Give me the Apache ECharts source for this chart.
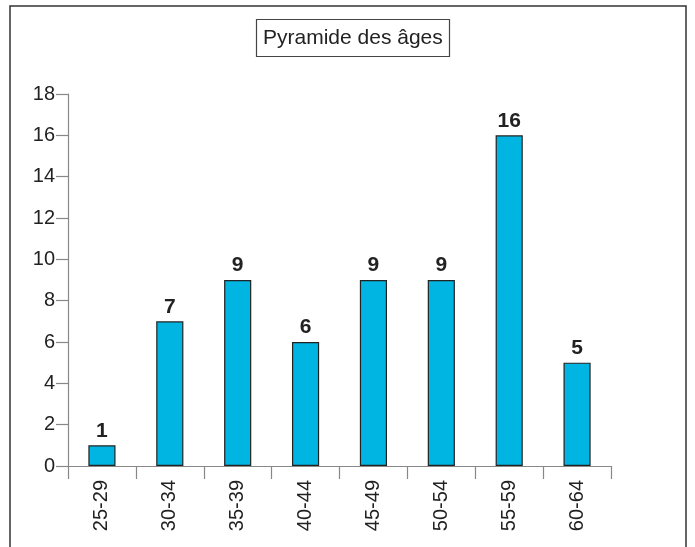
<!DOCTYPE html>
<html>
<head>
<meta charset="utf-8">
<script src="https://cdn.jsdelivr.net/npm/echarts@6/dist/echarts.min.js"></script>
<style>
  html, body { margin: 0; padding: 0; background: #fff; }
  #chart { width: 695px; height: 547px; }
</style>
</head>
<body>
<div id="chart"></div>
<script>
var categories = ['25-29', '30-34', '35-39', '40-44', '45-49', '50-54', '55-59', '60-64'];
var counts = [1, 7, 9, 6, 9, 9, 16, 5];
var yTicks = [0, 2, 4, 6, 8, 10, 12, 14, 16, 18];

var font = '"Liberation Sans", Arial, Helvetica, sans-serif';
var myChart = echarts.init(document.getElementById('chart'));

var option = {
    animation: false,
    backgroundColor: '#fff',
    graphic: [{
        type: 'rect',
        shape: {x: 10, y: 6, width: 676, height: 600},
        style: {fill: 'none', stroke: '#333', lineWidth: 1.5},
        silent: true
    }],
    title: {
        text: 'Pyramide des âges',
        left: 256,
        top: 19,
        padding: [8, 7],
        borderColor: '#444',
        borderWidth: 1.2,
        textStyle: {
            fontFamily: font,
            fontSize: 21,
            fontWeight: 'normal',
            color: '#222',
            lineHeight: 22
        }
    },
    grid: {left: 68, right: 84, top: 94, bottom: 81, containLabel: false},
    xAxis: {
        type: 'category',
        data: categories,
        axisLine: {lineStyle: {color: '#888', width: 1.2}},
        axisTick: {show: true, alignWithLabel: false, length: 13, inside: false,
                   lineStyle: {color: '#888', width: 1.2}},
        axisLabel: {
            rotate: 90,
            margin: 14,
            fontFamily: font,
            fontSize: 20,
            color: '#222'
        }
    },
    yAxis: {
        type: 'value',
        min: 0,
        max: yTicks[yTicks.length - 1],
        interval: 2,
        splitLine: {show: false},
        axisLine: {show: true, lineStyle: {color: '#888', width: 1.2}},
        axisTick: {show: true, length: 12, lineStyle: {color: '#888', width: 1.2}},
        axisLabel: {
            margin: 13,
            fontFamily: font,
            fontSize: 20,
            color: '#222'
        }
    },
    series: [{
        type: 'bar',
        data: counts,
        barWidth: '40%',
        itemStyle: {color: '#00b5e2', borderColor: '#222', borderWidth: 1.2},
        label: {
            show: true,
            position: 'top',
            distance: 4,
            fontFamily: font,
            fontSize: 21,
            fontWeight: 'bold',
            color: '#222'
        }
    }]
};

myChart.setOption(option);
</script>
</body>
</html>
